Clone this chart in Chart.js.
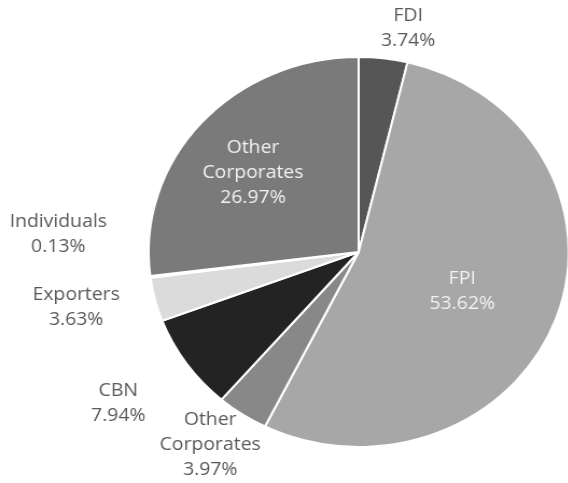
<!DOCTYPE html>
<html>
<head>
<meta charset="utf-8">
<script src="https://cdn.jsdelivr.net/npm/chart.js@4.4.1/dist/chart.umd.min.js"></script>
<style>
  html, body { margin: 0; padding: 0; background: #fff; overflow: hidden; }
  /* the source picture is a little wider than tall, so stretch the whole chart */
  #wrap { width: 530px; height: 483px; transform: scaleX(1.077); transform-origin: 0 0; }
</style>
</head>
<body>
<div id="wrap"><canvas id="chart" width="530" height="483"></canvas></div>
<script>
const categories = ['FDI', 'FPI', 'Other Corporates', 'CBN', 'Exporters', 'Individuals', 'Other Corporates']
const shares = [3.74, 53.62, 3.97, 7.94, 3.63, 0.13, 26.97]
const sliceColors = ['#565656', '#a7a7a7', '#888888', '#232323', '#dbdbdb', '#bdbdbd', '#7a7a7a']

// where each label sits: distance from the centre (x radius) and a small turn in degrees
const labelDistance = [1.17, 0.533, 1.216, 1.384, 1.375, 1.433, 0.647]
const labelTurn = [4.9, 2.3, 1.9, 0.7, 2.1, 10.9, -2.5]
const labelInside = [false, true, false, false, false, false, true]

var PieLabels = (() => {
  var lineHeight = 25

  function afterDatasetsDraw(chart) {
    var ctx = chart.ctx
    var meta = chart.getDatasetMeta(0)

    ctx.save()
    ctx.font = '18px "Open Sans"'
    ctx.textAlign = 'center'
    ctx.textBaseline = 'middle'

    meta.data.forEach(function(arc, i) {
      var p = arc.getProps(['x', 'y', 'startAngle', 'endAngle', 'outerRadius'], true)
      var mid = (p.startAngle + p.endAngle) / 2 + labelTurn[i] * Math.PI / 180
      var r = p.outerRadius * labelDistance[i]
      var cx = p.x + Math.cos(mid) * r
      var cy = p.y + Math.sin(mid) * r

      var lines = categories[i].split(' ')
      lines.push(shares[i].toFixed(2) + '%')

      ctx.fillStyle = labelInside[i] ? '#f2f2f2' : '#595959'
      var top = cy - (lines.length - 1) * lineHeight / 2
      lines.forEach(function(text, j) {
        ctx.fillText(text, cx, top + j * lineHeight)
      })
    })
    ctx.restore()
  }

  return { id: 'pieLabels', afterDatasetsDraw }
})()

new Chart(document.getElementById('chart'), {
  type: 'pie',
  data: {
    labels: categories,
    datasets: [{
      data: shares,
      backgroundColor: sliceColors,
      borderColor: '#ffffff',
      borderWidth: 2
    }]
  },
  options: {
    responsive: false,
    animation: false,
    radius: 195,
    layout: { padding: { top: 57, bottom: 36, left: 138, right: 2 } },
    plugins: {
      legend: { display: false },
      tooltip: { enabled: false }
    }
  },
  plugins: [PieLabels]
})
</script>
</body>
</html>
